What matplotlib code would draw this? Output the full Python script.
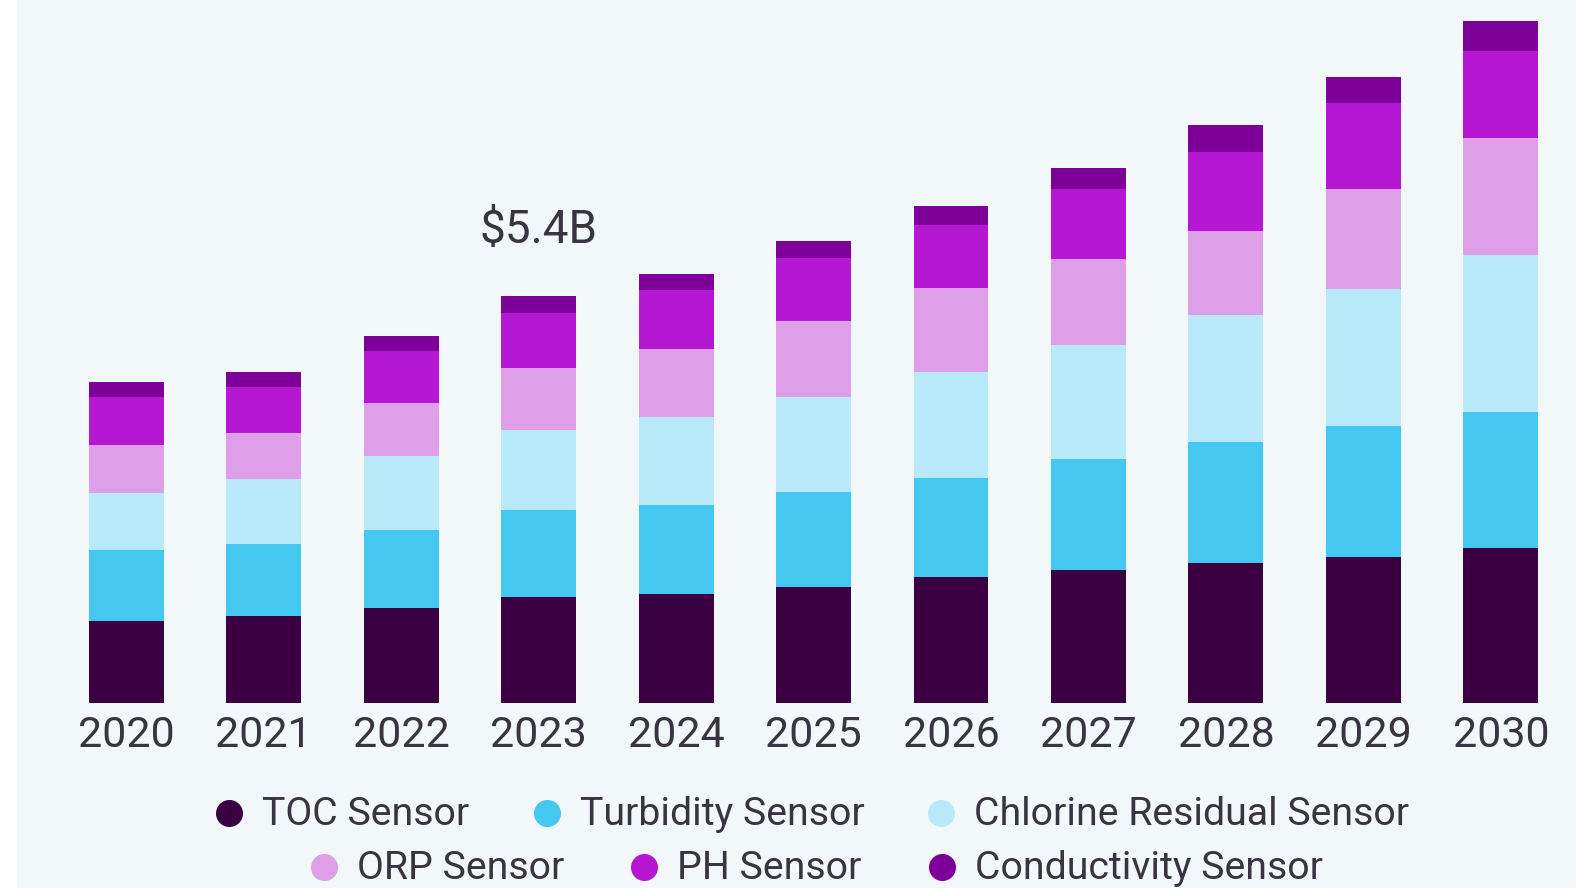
import matplotlib
matplotlib.use("Agg")
import matplotlib.pyplot as plt
from matplotlib.patches import Rectangle
import numpy as np

# Market size by sensor type, USD billions
years = ["2020", "2021", "2022", "2023", "2024", "2025", "2026", "2027", "2028", "2029", "2030"]
toc_sensor = [1.08, 1.15, 1.26, 1.40, 1.45, 1.54, 1.67, 1.76, 1.85, 1.94, 2.06]
turbidity_sensor = [0.95, 0.96, 1.04, 1.16, 1.18, 1.26, 1.32, 1.48, 1.61, 1.74, 1.80]
chlorine_residual_sensor = [0.76, 0.86, 0.98, 1.06, 1.17, 1.26, 1.41, 1.51, 1.69, 1.82, 2.09]
orp_sensor = [0.64, 0.61, 0.70, 0.83, 0.90, 1.01, 1.11, 1.14, 1.12, 1.33, 1.56]
ph_sensor = [0.63, 0.62, 0.69, 0.73, 0.78, 0.84, 0.84, 0.93, 1.05, 1.14, 1.15]
conductivity_sensor = [0.20, 0.19, 0.20, 0.22, 0.22, 0.22, 0.25, 0.28, 0.36, 0.35, 0.40]

series_names = ["TOC Sensor", "Turbidity Sensor", "Chlorine Residual Sensor",
                "ORP Sensor", "PH Sensor", "Conductivity Sensor"]
series_values = [toc_sensor, turbidity_sensor, chlorine_residual_sensor,
                 orp_sensor, ph_sensor, conductivity_sensor]
series_colors = ["#3B0042", "#45C8F0", "#B8E9F9", "#DE9EE8", "#B517D3", "#7D0099"]

highlight_year = "2023"

BG = "#F2F7FA"
TEXT = "#3A3342"
FONT = "Roboto"

W, H, DPI = 1576, 888, 100
fig = plt.figure(figsize=(W / DPI, H / DPI), dpi=DPI, facecolor=BG)
fig.patches.append(Rectangle((0, 0), 17 / W, 1, transform=fig.transFigure,
                             facecolor="white", edgecolor="none", zorder=0))

# plot area in pixels
x_left, x_right = 57.45, 1569.6
y_base = 702.7
px_per_unit = 75.25
ax = fig.add_axes([x_left / W, (H - y_base) / H, (x_right - x_left) / W, y_base / H])
ax.set_facecolor("none")

x = np.arange(len(years))
bottom = np.zeros(len(years))
for name, vals, col in zip(series_names, series_values, series_colors):
    v = np.array(vals)
    ax.bar(x, v, bottom=bottom, width=0.545, color=col, label=name, linewidth=0, zorder=2)
    bottom += v

ax.set_xlim(-0.5, len(years) - 0.5)
ax.set_ylim(0, y_base / px_per_unit)
ax.set_xticks(x)
ax.set_xticklabels(years, fontsize=31, color=TEXT, family=FONT)
ax.tick_params(axis="x", length=0, pad=9)
ax.set_yticks([])
for s in ax.spines.values():
    s.set_visible(False)

# total label on the highlighted year
hi = years.index(highlight_year)
ax.annotate(f"${bottom[hi]:.1f}B", xy=(x[hi], bottom[hi]), xytext=(0, 47.5),
            textcoords="offset points", ha="center", va="center",
            fontsize=33, color=TEXT, family=FONT)

# legend, two centred rows
over = fig.add_axes([0, 0, 1, 1])
over.set_xlim(0, W)
over.set_ylim(H, 0)
over.axis("off")
legend_pos = [(229, 813), (547, 813), (941, 813), (324, 866.5), (644, 866.5), (942, 866.5)]
for (mx, my), name, col in zip(legend_pos, series_names, series_colors):
    over.scatter([mx], [my], s=27 ** 2 * 0.52, color=col, linewidths=0)
    over.text(mx + 33, my + 1.5, name, ha="left", va="center", fontsize=28.3, color=TEXT, family=FONT)

fig.savefig("out.png", dpi=DPI, facecolor=BG)
